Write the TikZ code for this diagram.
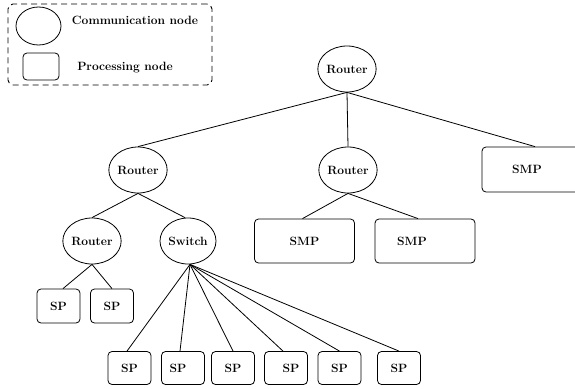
\documentclass[tikz,border=0pt]{standalone}
\usetikzlibrary{shapes.geometric}
\begin{document}
\begin{tikzpicture}[x=1pt,y=-1pt,
  every node/.style={font=\fontsize{12}{14}\selectfont\bfseries, inner sep=0pt},
  comm/.style={draw, ellipse, line width=0.8pt, minimum width=56pt, minimum height=46pt},
  proc/.style={draw, rectangle, rounded corners=4pt, line width=0.8pt},
  spbox/.style={proc, minimum width=43pt, minimum height=33pt},
  smpbox/.style={proc, minimum width=100pt, minimum height=44pt},
  link/.style={line width=0.8pt}]
\useasboundingbox (0,0) rectangle (575,388);
% legend
\node[draw, dashed, dash pattern=on 6pt off 4pt, rounded corners=5pt, line width=0.9pt,
      minimum width=204pt, minimum height=81pt] (legend) at (110,44.5) {};
\node[comm, minimum width=45pt, minimum height=38pt] (lege) at (38.5,26) {};
\node[proc, minimum width=36pt, minimum height=27pt] (legr) at (41,66.5) {};
\node (legetxt) at (135,20) {Communication node};
\node (legrtxt) at (125,68) {Processing node};
% tree
\node[comm, minimum width=51pt] (r0) at (347,69) {Router};
\node[comm] (r1) at (138,170) {Router};
\node[comm] (r2) at (348,170) {Router};
\node[smpbox, minimum width=98pt, minimum height=45pt] (smp3) at (531,169.5) {\hspace*{-8pt}SMP};
\node[smpbox] (smp1) at (304.5,241) {SMP};
\node[smpbox] (smp2) at (425,241) {\hspace*{-26pt}SMP};
\node[comm] (r3) at (92,241) {Router};
\node[comm] (sw) at (188,241) {Switch};
\node[spbox, minimum height=34pt] (sp1) at (58.5,306) {SP};
\node[spbox, minimum height=34pt] (sp2) at (112,306) {SP};
\node[spbox] (spa) at (129.5,368) {SP};
\node[spbox] (spb) at (183,368) {\hspace*{-10pt}SP};
\node[spbox] (spc) at (233,368) {SP};
\node[spbox] (spd) at (286,368) {\hspace*{10pt}SP};
\node[spbox] (spe) at (339.5,368) {SP};
\node[spbox] (spf) at (399,368) {SP};
% links
\draw[link] (r0.south) -- (r1.north);
\draw[link] (r0.south) -- (r2.north);
\draw[link] (r0.south) -- ([xshift=4pt]smp3.north);
\draw[link] (r2.south) -- ([xshift=-2pt]smp1.north);
\draw[link] (r2.south) -- ([xshift=-7pt]smp2.north);
\draw[link] (r1.south) -- (r3.north);
\draw[link] (r1.south) -- ([xshift=-3pt]sw.north);
\draw[link] (r3.south) -- ([xshift=4.5pt]sp1.north);
\draw[link] (r3.south) -- (sp2.north);
\draw[link] ([xshift=2pt]sw.south) -- ([xshift=-2.5pt]spa.north);
\draw[link] ([xshift=2pt]sw.south) -- ([xshift=-3pt]spb.north);
\draw[link] ([xshift=2pt]sw.south) -- (spc.north);
\draw[link] ([xshift=2pt]sw.south) -- ([xshift=-3pt]spd.north);
\draw[link] ([xshift=2pt]sw.south) -- (spe.north);
\draw[link] ([xshift=2pt]sw.south) -- (spf.north);
\end{tikzpicture}
\end{document}
